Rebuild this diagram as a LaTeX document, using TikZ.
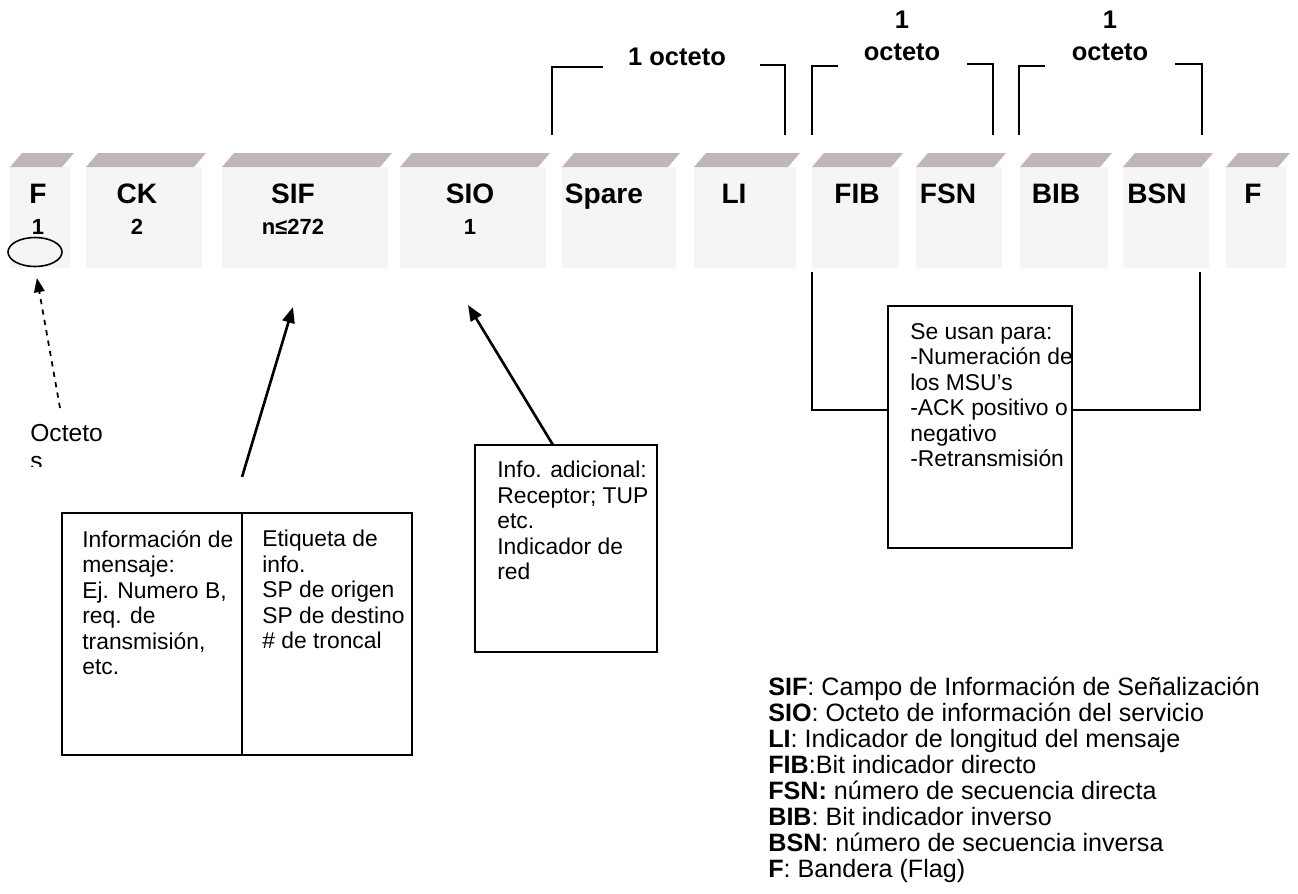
\documentclass[tikz,border=0pt]{standalone}
\usepackage{fontspec}
\setmainfont{Liberation Sans}
\usetikzlibrary{arrows.meta,shapes.geometric}
\tikzset{
  strip/.style={fill={rgb,255:red,192;green,182;blue,185}},
  body/.style={fill=black!4},
  fieldname/.style={font=\fontsize{16}{18}\selectfont\bfseries, anchor=base},
  fieldlen/.style={font=\fontsize{12.5}{14}\selectfont\bfseries, anchor=base},
  octlabel/.style={font=\fontsize{14.5}{18}\selectfont\bfseries, align=center},
  txt/.style={font=\fontsize{13}{14.5}\selectfont, align=left, inner sep=0pt, anchor=north west},
  box/.style={draw, line width=0.9pt, inner sep=0pt},
  brk/.style={line width=1pt},
  pointer/.style={line width=1.5pt, -{Triangle[length=9pt,width=7pt]}},
}
\begin{document}
\begin{tikzpicture}[x=0.02cm, y=-0.02cm]
\useasboundingbox (0,0) rectangle (1298,893);
% campos de la trama
\foreach \xa/\xb/\xt/\nm/\lab in {10/74/38/fa/F, 86/206/137/ck/CK, 222/392/293/sif/SIF, 400/550/470/sio/SIO, 562/680/604/spare/Spare, 694/800/734/li/LI, 812/903/857/fib/FIB, 916/1006/948/fsn/FSN, 1020/1112/1056/bib/BIB, 1123/1213/1157/bsn/BSN, 1226/1290/1253/fb/F}
 {\fill[body] (\xa,167) rectangle (\xb-4,268);
  \fill[strip] (\xa,167) -- (\xb-12,167) -- (\xb,153) -- (\xa+12,153) -- cycle;
  \node[fieldname] (\nm) at (\xt,203) {\lab};}
\foreach \xt/\nm/\len in {38/fa/1, 137/ck/2, 293/sif/n≤272, 470/sio/1}
  \node[fieldlen] (\nm len) at (\xt,234) {\len};

% llaves de octetos
\node[octlabel] (oct a) at (677,57) {1 octeto};
\node[octlabel] (oct b) at (902,36) {1\\octeto};
\node[octlabel] (oct c) at (1110,36) {1\\octeto};
\draw[brk] (552,135) |- (603,67);
\draw[brk] (760,65) -| (785,135);
\draw[brk] (812,135) |- (838,66);
\draw[brk] (967,64) -| (993,135);
\draw[brk] (1019,135) |- (1045,66);
\draw[brk] (1175,64) -| (1202,135);

% bandera
\node[draw, ellipse, line width=0.9pt, minimum width=1.08cm, minimum height=0.58cm] (flagmark) at (35,252) {};
\coordinate (octtail) at (60,408);
\draw[line width=1pt, dash pattern=on 3pt off 3pt, -{Triangle[length=8pt,width=6pt]}, shorten >=0.22cm] (octtail) -- (flagmark.south);
\begin{scope}
\clip (0,400) rectangle (200,466);
\node[txt, font=\fontsize{14}{16}\selectfont] (octetos) at (30,424) {Octeto\\s};
\end{scope}

% cuadros de abajo
\node[box, minimum width=3.6cm, minimum height=4.84cm] (msg) at (152,634) {};
\node[box, minimum width=3.4cm, minimum height=4.84cm] (etiq) at (327,634) {};
\node[txt] (msg txt) at (82,530) {Información de\\mensaje:\\Ej. Numero B,\\req. de\\transmisión,\\etc.};
\node[txt] (etiq txt) at (262,530) {Etiqueta de\\info.\\SP de origen\\SP de destino\\\# de troncal};

\node[box, minimum width=3.64cm, minimum height=4.14cm] (info) at (566,548.5) {};
\node[txt] (info txt) at (497,461) {Info. adicional:\\Receptor; TUP\\etc.\\Indicador de\\red};

\node[box, minimum width=3.68cm, minimum height=4.84cm] (usan) at (980,427) {};
\node[txt] (usan txt) at (910,323) {Se usan para:\\-Numeración de\\los MSU’s\\-ACK positivo o\\negativo\\-Retransmisión};

% flechas
\coordinate (siftail) at (242,477);
\coordinate (sifhead) at (293,307);
\coordinate (siotail) at (553,445);
\coordinate (siohead) at (468,305);
\draw[pointer] (siftail) -- (sifhead);
\draw[pointer] (siotail) -- (siohead);

% llave FIB--BSN
\coordinate (fibtop) at (812,272);
\coordinate (bsntop) at (1200,272);
\draw[brk] (fibtop) |- (usan.west |- 0,410);
\draw[brk] (bsntop) |- (usan.east |- 0,410);

% leyenda
\node[txt, font=\fontsize{14.3}{14.8}\selectfont] (legend) at (768,677) {%
\textbf{SIF}: Campo de Información de Señalización\\
\textbf{SIO}: Octeto de información del servicio\\
\textbf{LI}: Indicador de longitud del mensaje\\
\textbf{FIB}:Bit indicador directo\\
\textbf{FSN:} número de secuencia directa\\
\textbf{BIB}: Bit indicador inverso\\
\textbf{BSN}: número de secuencia inversa\\
\textbf{F}: Bandera (Flag)};
\end{tikzpicture}
\end{document}
